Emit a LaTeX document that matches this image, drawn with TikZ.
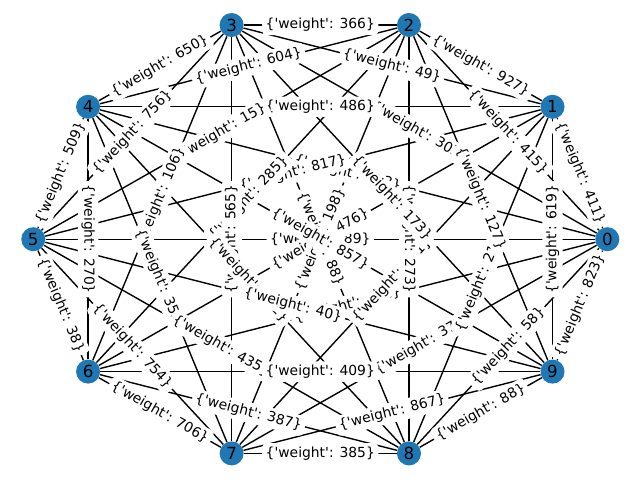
\documentclass[tikz,border=0pt]{standalone}
\usepackage{fontspec}
\setmainfont{DejaVu Sans}[Ligatures=TeXOff]
\usepackage{tikz}
\definecolor{nxblue}{HTML}{1F78B4}
\newcommand{\edgelist}{0/1/411, 0/2/415, 0/3/302, 0/4/263, 0/5/89, 0/6/742, 0/7/37, 0/8/58, 0/9/823,
  1/2/927, 1/3/49, 1/4/486, 1/5/817, 1/6/476, 1/7/531, 1/8/217, 9/1/619,
  2/3/366, 2/4/604, 2/5/15, 2/6/285, 2/7/198, 2/8/273, 2/9/127,
  3/4/650, 3/5/756, 3/6/106, 7/3/565, 3/8/88, 3/9/173,
  4/5/509, 4/6/270, 4/7/352, 4/8/612, 4/9/857,
  5/6/38, 5/7/754, 5/8/435, 5/9/40,
  6/7/706, 6/8/387, 6/9/409,
  7/8/385, 7/9/867,
  8/9/88}

\begin{document}
\begin{tikzpicture}[x=0.72pt,y=-0.72pt,
  vertex/.style={circle,fill=nxblue,minimum size=17.3pt,inner sep=0pt,font=\fontsize{12}{14}\selectfont},
  link/.style={line width=1pt},
  lab/.style={midway,sloped,fill=white,rounded corners=3pt,inner sep=2.5pt,font=\fontsize{10}{12}\selectfont}
]
\useasboundingbox (0,0) rectangle (640,480);
\foreach \n/\x/\y in {0/607.3/239.2, 1/552.5/106.8, 2/409.0/25.0, 3/231.6/25.0, 4/88.1/106.8,
  5/33.3/239.2, 6/88.1/371.6, 7/231.6/453.4, 8/409.0/453.4, 9/552.5/371.6}
  \node[vertex] (v\n) at (\x,\y) {\n};

\foreach \a/\b/\w in \edgelist
  \draw[link] (v\a) -- (v\b);
\foreach \a/\b/\w in \edgelist
  \path (v\a) -- (v\b) node[lab] {\{'weight': \w\}};
\end{tikzpicture}
\end{document}
